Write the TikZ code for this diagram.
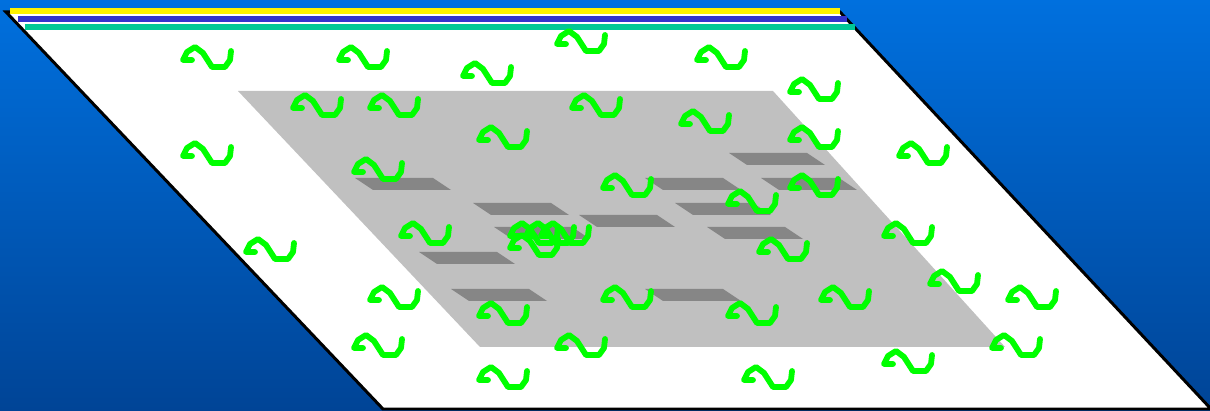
\documentclass[tikz,border=0pt]{standalone}
\usepackage{tikz}
\definecolor{bgtop}{RGB}{0,112,222}
\definecolor{bgbottom}{RGB}{0,68,150}
\definecolor{barblue}{RGB}{51,51,204}
\definecolor{barteal}{RGB}{0,200,150}
\definecolor{wafer}{RGB}{192,192,192}
\definecolor{die}{RGB}{134,134,134}

\begin{document}
\begin{tikzpicture}[x=0.02cm, y=-0.02cm,
  patch/.style={fill=die},
  squiggle/.style={draw=green, line width=3.3pt, line join=round, line cap=round}]
  \useasboundingbox (0,0) rectangle (1210,411);
  \shade[top color=bgtop, bottom color=bgbottom] (0,0) rectangle (1210,411);

  % sheet and bars
  \draw[fill=white, line width=1.7pt] (6,12) -- (840,12) -- (1211,409) -- (383,409) -- cycle;
  \fill[yellow] (10,8.5) rectangle (840,14.5);
  \fill[barblue] (18,16.5) rectangle (847,22);
  \fill[barteal] (25,24.5) rectangle (855,30);

  % grey field
  \fill[wafer] (238,91) -- (773,91) -- (1005,347) -- (480,347) -- cycle;

  % dark patches
  \foreach \x/\y in {355/178, 473/203, 494/227, 419/252, 451/289, 645/178,
                     579/215, 675/203, 707/227, 729/153, 761/178, 645/289}
    \fill[patch] (\x,\y) -- ++(78,0) -- ++(18,12) -- ++(-78,0) -- cycle;

  % squiggles
  \foreach \x/\y in {182/45, 338/45, 462/61, 556/29, 696/45, 789/77, 292/93,
                     369/93, 571/93, 680/109, 478/125, 789/125, 182/141, 898/141,
                     353/157, 602/173, 789/173, 727/189, 400/221, 509/221, 525/221,
                     540/221, 883/221, 509/233, 758/237, 245/237, 929/269, 369/285,
                     602/285, 820/285, 1007/285, 478/301, 727/301, 353/333, 556/333,
                     991/333, 883/349, 478/365, 743/365}
    \draw[squiggle, shift={(\x,\y)}] (10,15) -- (1,15) -- (5,7) -- (13,2) -- (21,8)
      -- (30,22) -- (43,22) -- (48,15) -- (49,6);
\end{tikzpicture}
\end{document}
